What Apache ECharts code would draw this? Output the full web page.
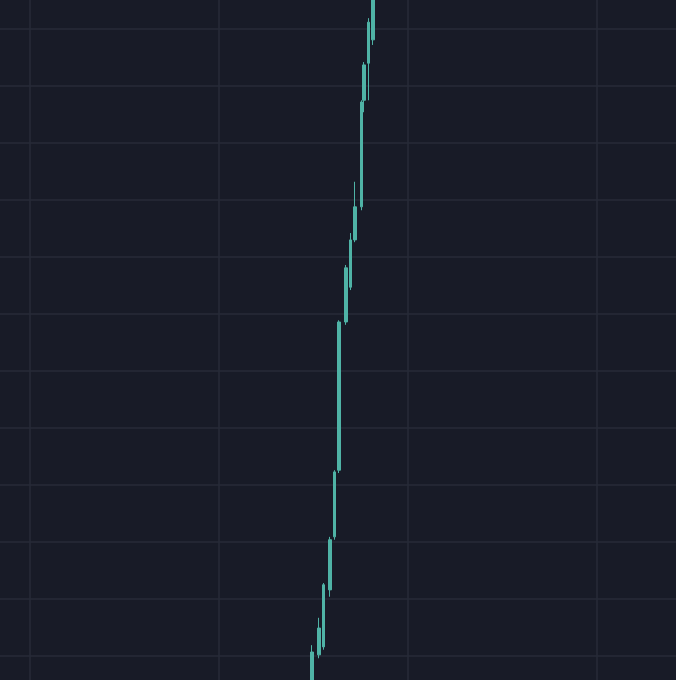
<!DOCTYPE html>
<html>
<head>
<meta charset="utf-8">
<script src="https://cdn.jsdelivr.net/npm/echarts@6/dist/echarts.min.js"></script>
<style>
  html, body { margin: 0; padding: 0; background: #181b27; }
  #main { width: 676px; height: 680px; }
</style>
</head>
<body>
<div id="main"></div>
<script>
// candles sit on a 300 slot category axis, only the pump is drawn
const slotCount = 300
const slots  = [138, 141, 143, 146, 148, 150, 153, 155, 157, 160, 161, 163, 165]
const opens  = [-0.77, 0.02, 0.16, 1.16, 2.09, 3.26, 5.86, 6.47, 7.30, 7.88, 9.75, 10.40, 10.81]
const closes = [0.07, 0.49, 1.25, 2.04, 3.23, 5.86, 6.81, 7.30, 7.88, 9.72, 10.37, 11.12, 12.04]
const lows   = [-0.77, -0.04, 0.11, 1.04, 2.04, 3.21, 5.81, 6.42, 7.26, 7.82, 9.54, 9.75, 10.72]
const highs  = [0.19, 0.67, 1.28, 2.09, 3.26, 5.89, 6.86, 7.42, 8.32, 9.75, 10.42, 11.19, 12.04]

const categories = []
const candles = []
for (let i = 0; i < slotCount; i++) {
    categories.push(String(i))
    const k = slots.indexOf(i)
    if (k >= 0) {
        candles.push([opens[k], closes[k], lows[k], highs[k]])
    } else {
        candles.push(['-', '-', '-', '-'])
    }
}

const gridColor = '#272b39'
const myChart = echarts.init(document.getElementById('main'))
myChart.setOption({
    backgroundColor: '#181b27',
    animation: false,
    grid: [
        { left: 0, right: 0, top: 29, bottom: 24 },
        { left: 30, right: 79, top: 0, bottom: 0 }
    ],
    xAxis: [
        {
            type: 'category',
            gridIndex: 0,
            data: categories,
            boundaryGap: true,
            axisLine: { show: false },
            axisTick: { show: false },
            axisLabel: { show: false },
            splitLine: { show: false }
        },
        {
            type: 'value',
            gridIndex: 1,
            min: 0,
            max: 3,
            interval: 1,
            axisLine: { show: false },
            axisTick: { show: false },
            axisLabel: { show: false },
            splitLine: { show: true, lineStyle: { color: gridColor, width: 1.5 } }
        }
    ],
    yAxis: [
        {
            type: 'value',
            gridIndex: 0,
            min: 0,
            max: 11,
            interval: 1,
            axisLine: { show: false },
            axisTick: { show: false },
            axisLabel: { show: false },
            splitLine: { show: true, lineStyle: { color: gridColor, width: 1.5 } }
        },
        {
            type: 'value',
            gridIndex: 1,
            min: 0,
            max: 1,
            axisLine: { show: false },
            axisTick: { show: false },
            axisLabel: { show: false },
            splitLine: { show: false }
        }
    ],
    series: [
        {
            type: 'candlestick',
            xAxisIndex: 0,
            yAxisIndex: 0,
            clip: false,
            barWidth: 3,
            data: candles,
            itemStyle: {
                color: '#4fb3a6',
                color0: '#ef5350',
                borderColor: '#4fb3a6',
                borderColor0: '#ef5350',
                borderWidth: 1
            }
        }
    ]
})
</script>
</body>
</html>
